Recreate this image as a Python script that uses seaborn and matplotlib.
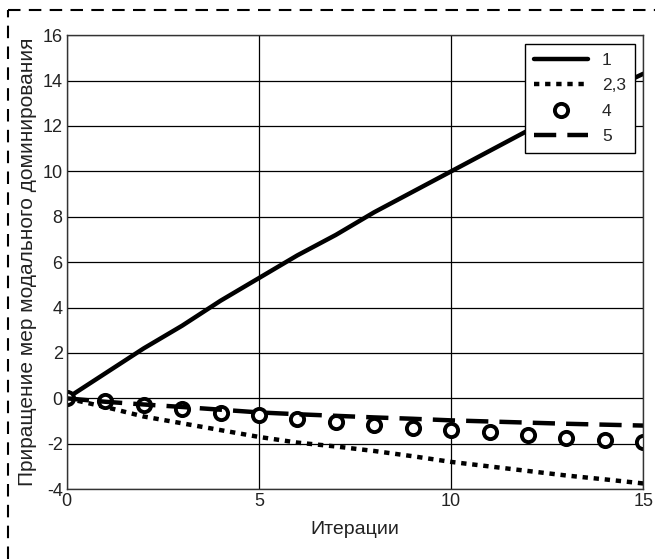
import numpy as np
import pandas as pd
import seaborn as sns
import matplotlib.pyplot as plt
from matplotlib.lines import Line2D

iterations = list(range(16))
series_1 = [0, 1.1, 2.2, 3.2, 4.3, 5.3, 6.3, 7.2, 8.2, 9.1, 10.0, 10.9, 11.8, 12.6, 13.5, 14.3]
series_23 = [0, -0.38, -0.8, -1.1, -1.4, -1.7, -1.95, -2.12, -2.32, -2.55, -2.8, -3.0, -3.2, -3.4, -3.57, -3.75]
series_4 = [0, -0.13, -0.3, -0.45, -0.63, -0.75, -0.93, -1.04, -1.19, -1.29, -1.41, -1.5, -1.63, -1.73, -1.85, -1.92]
series_5 = [0, -0.15, -0.27, -0.38, -0.5, -0.62, -0.7, -0.77, -0.84, -0.9, -0.97, -1.02, -1.07, -1.12, -1.16, -1.2]
labels = ["1", "2,3", "4", "5"]

sns.set_style("white")
plt.rcParams["font.family"] = ["Liberation Sans", "DejaVu Sans"]
plt.rcParams["axes.unicode_minus"] = False

fig = plt.figure(figsize=(6.55, 5.59), dpi=100)
ax = fig.add_axes([0.102, 0.125, 0.880, 0.812])

# Plot series
sns.lineplot(x=iterations, y=series_1, ax=ax, color="black", lw=3.2, label=labels[0])
sns.lineplot(x=iterations, y=series_23, ax=ax, color="black", lw=3.2,
             label=labels[1]).lines[-1].set_dashes([1.2, 1.3])
sns.lineplot(x=iterations, y=series_4, ax=ax, color="black", lw=0, marker="o",
             markersize=9.5, markerfacecolor="white", markeredgecolor="black",
             markeredgewidth=2.8, label=labels[2])
sns.lineplot(x=iterations, y=series_5, ax=ax, color="black", lw=3.2,
             label=labels[3]).lines[-1].set_dashes([5, 2.5])

ax.set_xlim(0, 15)
ax.set_ylim(-4, 16)
ax.set_xticks([0, 5, 10, 15])
ax.set_yticks(np.arange(-4, 17, 2))
ax.grid(True, color="black", lw=0.9)
ax.tick_params(labelsize=13, labelcolor="#222222", direction="in", length=3,
               width=0.8, color="#333333", pad=3)
for sp in ax.spines.values():
    sp.set_color("#333333")
    sp.set_linewidth(1.0)

ax.set_xlabel("Итерации", fontsize=14, color="#222222", labelpad=8)
ax.set_ylabel("Приращение мер модального доминирования", fontsize=15,
              color="#222222", labelpad=4)

leg = ax.legend(loc="upper right", fontsize=12.5, frameon=True, fancybox=False,
                edgecolor="black", handlelength=3.1, borderaxespad=0.5,
                labelspacing=0.6, borderpad=0.5)
leg.get_frame().set_linewidth(1.0)
leg.get_frame().set_alpha(1)

# dashed border on top and left
fig.add_artist(Line2D([0.012, 1.0], [0.982, 0.982], transform=fig.transFigure,
                      color="black", lw=1.5, dashes=(6, 4)))
fig.add_artist(Line2D([0.012, 0.012], [0.0, 0.982], transform=fig.transFigure,
                      color="black", lw=1.5, dashes=(6, 4)))

fig.savefig("out.png", dpi=100)
